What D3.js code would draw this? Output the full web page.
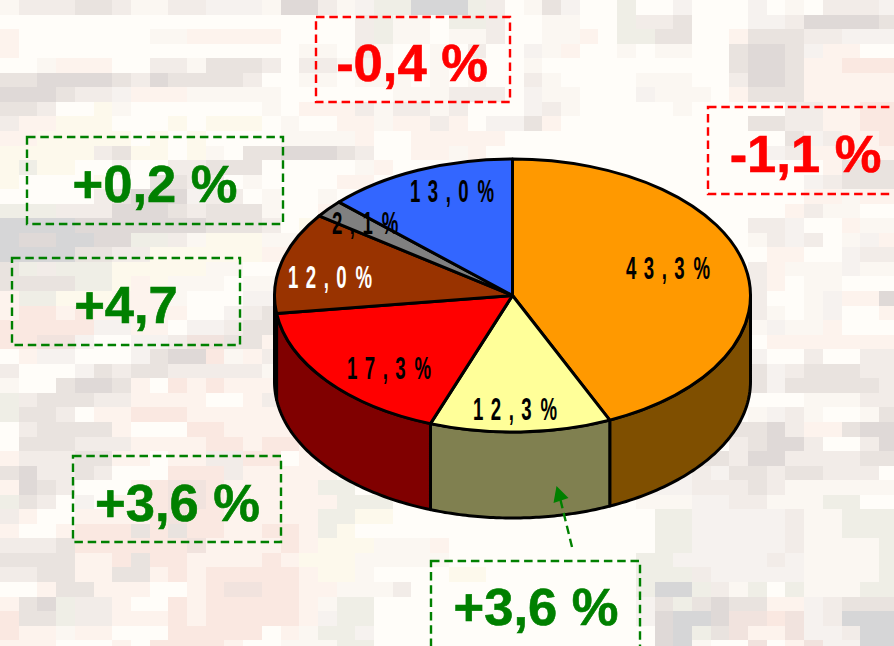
<!DOCTYPE html>
<html>
<head>
<meta charset="utf-8">
<script src="https://cdn.jsdelivr.net/npm/d3@7"></script>
<style>
html,body{margin:0;padding:0;background:#fffdf9;overflow:hidden}
svg{display:block}
text{font-family:"Liberation Sans",Arial,sans-serif;font-weight:bold}
</style>
</head>
<body>
<svg id="chart" width="894" height="646"></svg>
<script>
// Chart data
const categories = ["a","b","c","d","e","f"];
const shareValues = [43.3, 12.3, 17.3, 12.0, 2.1, 13.0];
const shareLabels = ["43,3 %","12,3 %","17,3 %","12,0 %","2,1 %","13,0 %"];
const topColors  = ["#ff9900","#ffff99","#ff0000","#993300","#808080","#3366ff"];
const wallColors = ["#7f4f00","#808050","#800000","#4d1a00","#404040","#1a3380"];
const labelColors = ["#000","#000","#000","#fff","#000","#000"];
const changeLabels = ["-0,4 %","-1,1 %","+0,2 %","+4,7","+3,6 %","+3,6 %"];
const changeColors = ["#ff0000","#ff0000","#008000","#008000","#008000","#008000"];

// Pixelated backdrop: left|middle|right, 16 tiles per part
const backdropPalette = {".":"#fffdf9",a:"#fbf7f2",s:"#f6f2ef",b:"#f2ece8",c:"#e9e3df",d:"#dfd9d7",e:"#d6d6d7",p:"#fdf3ed",q:"#fae8e1",r:"#f1e3de",y:"#fdf9ec",g:"#efeee6"};
const backdropRows = [
"abbbccbaabbsssad|dbasggeeegb.acs.|.g..s...s.a.bbbs",
"................|...bgaa.ggb..aa.|.gbbc...ssbddddc",
"p.......aappppp.|...bgaa.aab..aap|.ggcc..pcccbbsss",
"p...............|aa.ba..a.b..sap.|.a.aa..cddcspp..",
"..appp..bbacccb.|bbasa..a.a..a...|.......cddcppqqq",
"ccddddcbdccccb..|aa.aaa.a.a..ba..|..aaa..bddcppppp",
"dddcbbspppaaaaa.|.....aaabbb.saa.|..saaa.pcccppppp",
"ccb..ya.......a.|pppbabbab...sba.|....a.....bbppqq",
"bppyyy...y.yyy.a|..ppappbp.sscp..|........ccbbppqq",
"ppyyyyy.y.y....a|aaap..ppppp.....|..........csbppq",
"yyyyybcyy.ya.ccd|ddcb..ppap......|.........sbppppp",
"ygyy..s..bbccc..|...ap...........|............pccc",
"y....y..ccbb.a..|..pp............|...........sbccc",
".....bcdddsbb.a.|.a..............|...........ppapp",
"gggbbbdddcbccca.|.p..............|..........pbaa..",
"eeeedddddddcccb.|yp..............|........bbs..paa",
"eddeeddggbayyyaa|p...............|........absb.asp",
"eeeeccbbyyyyyypp|p...............|.........pp..sbb",
"cgbgggyyyyyaa...|p...............|........bpaaasaa",
"ccccggypyaaa.aab|................|........bp.aa...",
"pggyyypppa...ssc|................|........b..asppd",
"pqqpqppppp..sbcc|................|........ba.as..p",
"qqqqqsspp.ssbccb|................|........asaap...",
"qqrrs..ssbrrccpp|................|.........ppppppp",
".pss...scddqapbb|................|........s..b..bb",
"b...scbccbbbbbaa|................|........csbcccbb",
"a..cddcp.qpqpppp|................|........cscccccb",
"gbcccbbpppp..pbp|................|...........aaabb",
"gccb.ppqqqpppppp|................|........asba..ac",
".bccccp...qqpppp|................|......cccdbppcdd",
".cccbbbppppqqpqq|p...............|.......bcddb..bd",
"pbbbccpp.ppbbqq.|p...............|.....ccbddbbbbcc",
"cdbbcb...qqqbppp|pp..............|...ssbsccbccbbb.",
"pdcb...pqrrqpppp|pgg.............|.asssbbbcbaaaaaa",
"gcb.s.ppqrrqpppp|ppggg...........|..aaassbbaaagg..",
"bp..ppppqrqqpppp|pggyy...........|...ggsssssbaaggg",
"p..pqqqcqcqqppqq|pgy.............|...ggsssssbaaggg",
"bbbcqqqqqqrppppq|pyyyaaap........|...ggsssssbaaaag",
"ccccppqcqqppppqp|yyyaaaaa........|..ggsssssbsaaaag",
"bbccppccpqpqqqqq|pyya....yy......|..gggbsssssaaaag",
"..pccppp..pqrrqq|ppaaab..........|..geegbag.gaaagg",
"pcdgbbp..qpqqqqq|pagg............|..scgcdccppsbccc",
"qccgbbpppqpqqqqq|psgg............|..sdeedrrqrsbeee",
"qppapp...qqqqq.p|aggs............|...degcrpprssbee",
"ppp...p.qqqqp..a|aagg............|...dea..r.prssee"
];

const tileW = 18.7, tileH = 14.55;
const svg = d3.select("#chart");

// Backdrop
const tiles = backdropRows.flatMap((row, i) => row.replace(/\|/g, "").split("").map((ch, j) => ({i, j, ch})));
svg.append("g").attr("shape-rendering","crispEdges").selectAll("rect").data(tiles).join("rect")
  .attr("x", d => d.j * tileW).attr("y", d => d.i * tileH)
  .attr("width", tileW + 0.5).attr("height", tileH + 0.5)
  .attr("fill", d => backdropPalette[d.ch] || backdropPalette["."]);

// Pie geometry
const cx = 512.5, cy = 295.5, rx = 238, ry = 136.5, depth = 86;
const px = d3.scaleLinear().domain([-1,1]).range([cx-rx, cx+rx]);
const py = d3.scaleLinear().domain([-1,1]).range([cy+ry, cy-ry]);
const pie = d3.pie().sort(null).startAngle(0).endAngle(2*Math.PI);
const arcs = pie(shareValues);

// Walls: only the front half of the rim (angles pi/2..3pi/2)
const wallGroup = svg.append("g");
arcs.forEach((a, i) => {
  const t0 = Math.max(a.startAngle, Math.PI/2), t1 = Math.min(a.endAngle, 3*Math.PI/2);
  if (t1 <= t0) return;
  const ts = d3.range(0, 61).map(k => t0 + (t1 - t0) * k / 60);
  const topEdge = ts.map(t => [px(Math.sin(t)), py(Math.cos(t))]);
  const botEdge = ts.slice().reverse().map(t => [px(Math.sin(t)), py(Math.cos(t)) + depth]);
  wallGroup.append("path")
    .attr("d", d3.line()(topEdge.concat(botEdge)) + "Z")
    .attr("fill", wallColors[i]).attr("stroke","#000")
    .attr("stroke-width",3).attr("stroke-linejoin","round");
});

// Top face
const arc = d3.arc().innerRadius(0).outerRadius(rx);
svg.append("g").attr("transform", `translate(${cx},${cy}) scale(1,${ry/rx})`)
  .selectAll("path").data(arcs).join("path")
  .attr("d", arc)
  .attr("fill", (d,i) => topColors[i])
  .attr("stroke","#000").attr("stroke-width",3)
  .attr("stroke-linejoin","round")
  .attr("vector-effect","non-scaling-stroke");

// Slice labels (layout: left edge and baseline in page pixels)
const labelSpots = [[626,279],[473,420],[347,379],[288,288],[332,234],[410,202]];
const labelScale = 0.6;
svg.append("g").selectAll("text").data(shareLabels).join("text")
  .attr("transform",(d,i)=>`translate(${labelSpots[i][0]},${labelSpots[i][1]}) scale(${labelScale},1)`)
  .attr("font-size",31)
  .attr("letter-spacing",12.5)
  .attr("word-spacing",-18.7)
  .attr("fill",(d,i)=>labelColors[i])
  .text(d=>d);

// Callout boxes (layout)
const boxes = [[316,17,194,85,412,81],[708,107,220,87,805.5,172],[27,137,256,87,155,202],[12,258,228,87,126,323],[73,456,208,86,177.5,521],[431,561,209,100,536,625]];
const callouts = svg.append("g");
boxes.forEach((b,i)=>{
  callouts.append("rect").attr("x",b[0]).attr("y",b[1]).attr("width",b[2]).attr("height",b[3])
    .attr("fill","none").attr("stroke",changeColors[i]).attr("stroke-width",2.4)
    .attr("stroke-dasharray","8.5,4.8");
  callouts.append("text").attr("x",b[4]).attr("y",b[5]).attr("text-anchor","middle")
    .attr("font-size",52.5).attr("fill",changeColors[i])
    .attr("stroke",changeColors[i]).attr("stroke-width",0.6).text(changeLabels[i]);
});

// Arrow from the bottom callout to the yellow wall
const arrow = svg.append("g");
arrow.append("path").attr("d",d3.line()([[572,547],[560,498]]))
  .attr("stroke","#008000").attr("stroke-width",2.4).attr("stroke-dasharray","8.5,4.8").attr("fill","none");
arrow.append("path").attr("d",d3.line()([[556.5,486],[568.5,498],[553.5,503]])+"Z").attr("fill","#008000");
</script>
</body>
</html>
